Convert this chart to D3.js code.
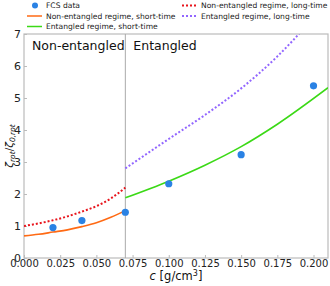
<!DOCTYPE html>
<html>
<head>
<meta charset="utf-8">
<script src="https://cdn.jsdelivr.net/npm/d3@7"></script>
<style>
  body { margin: 0; background: #fff; }
  svg { display: block; font-family: "DejaVu Sans", sans-serif; }
</style>
</head>
<body>
<div id="chart"></div>
<script>
// FCS measurements
const fcsC = [0.02, 0.04, 0.07, 0.1, 0.15, 0.2];
const fcsY = [0.95, 1.17, 1.43, 2.32, 3.23, 5.38];

// model curves
const nonEntShortC = [0, 0.01, 0.02, 0.03, 0.04, 0.05, 0.06, 0.07];
const nonEntShortY = [0.69, 0.74, 0.81, 0.88, 0.98, 1.1, 1.27, 1.48];
const nonEntLongC = [0, 0.01, 0.02, 0.03, 0.04, 0.05, 0.06, 0.07];
const nonEntLongY = [1.0, 1.08, 1.18, 1.3, 1.45, 1.62, 1.86, 2.2];
const entShortC = [0.07, 0.1, 0.125, 0.15, 0.175, 0.21];
const entShortY = [1.88, 2.4, 2.9, 3.48, 4.18, 5.32];
const entLongC = [0.07, 0.1, 0.125, 0.15, 0.175, 0.195];
const entLongY = [2.8, 3.72, 4.47, 5.3, 6.3, 7.25];

const cBoundary = 0.07;
const xTicks = [0, 0.025, 0.05, 0.075, 0.1, 0.125, 0.15, 0.175, 0.2];
const yTicks = [0, 1, 2, 3, 4, 5, 6, 7];

const width = 330, height = 286;
const margin = { top: 34, right: 2, bottom: 28, left: 24 };

const svg = d3.select("#chart").append("svg")
  .attr("width", width)
  .attr("height", height);

const x = d3.scaleLinear().domain([0, 0.21]).range([margin.left, width - margin.right]);
const y = d3.scaleLinear().domain([0, 7]).range([height - margin.bottom, margin.top]);

svg.append("defs").append("clipPath").attr("id", "plot-clip")
  .append("rect")
  .attr("x", x(0)).attr("y", y(7))
  .attr("width", x(0.21) - x(0)).attr("height", y(0) - y(7));

// axes
const xAxis = svg.append("g")
  .attr("transform", `translate(0,${y(0)})`)
  .call(d3.axisBottom(x).tickValues(xTicks).tickFormat(d3.format(".3f")).tickSize(-3).tickPadding(2));
const yAxis = svg.append("g")
  .attr("transform", `translate(${x(0)},0)`)
  .call(d3.axisLeft(y).tickValues(yTicks).tickFormat(d3.format("d")).tickSize(-3).tickPadding(3));

[xAxis, yAxis].forEach((g) => {
  g.select(".domain").remove();
  g.selectAll(".tick line").attr("stroke", "#bbb");
  g.selectAll(".tick text").attr("fill", "#222").style("font-size", "10px")
    .style("font-family", "DejaVu Sans");
});
yAxis.selectAll(".tick text").style("font-size", "11px");

// frame
svg.append("rect")
  .attr("x", x(0)).attr("y", y(7))
  .attr("width", x(0.21) - x(0)).attr("height", y(0) - y(7))
  .attr("fill", "none").attr("stroke", "#bbb").attr("stroke-width", 1.2);

// regime boundary
svg.append("line")
  .attr("x1", x(cBoundary)).attr("x2", x(cBoundary))
  .attr("y1", y(0)).attr("y2", y(7))
  .attr("stroke", "#aaa").attr("stroke-width", 1);

svg.append("text").attr("x", x(0) + 8).attr("y", 50)
  .style("font-size", "12.5px").attr("fill", "#111").text("Non-entangled");
svg.append("text").attr("x", x(cBoundary) + 8).attr("y", 50)
  .style("font-size", "12.5px").attr("fill", "#111").text("Entangled");

const line = d3.line()
  .x((d) => x(d[0]))
  .y((d) => y(d[1]))
  .curve(d3.curveMonotoneX);

const curves = [
  { c: nonEntShortC, v: nonEntShortY, color: "#ff6a14", dash: null },
  { c: entShortC, v: entShortY, color: "#3bd916", dash: null },
  { c: nonEntLongC, v: nonEntLongY, color: "#e8141c", dash: "2,2" },
  { c: entLongC, v: entLongY, color: "#9266ff", dash: "2,2" },
];

const plot = svg.append("g").attr("clip-path", "url(#plot-clip)");

curves.forEach((s) => {
  plot.append("path")
    .datum(d3.zip(s.c, s.v))
    .attr("d", line)
    .attr("fill", "none")
    .attr("stroke", s.color)
    .attr("stroke-width", s.dash ? 2 : 1.6)
    .attr("stroke-dasharray", s.dash);
});

plot.selectAll("circle")
  .data(d3.zip(fcsC, fcsY))
  .enter()
  .append("circle")
  .attr("cx", (d) => x(d[0]))
  .attr("cy", (d) => y(d[1]))
  .attr("r", 3.6)
  .attr("fill", "#2a82e4");

// axis labels
svg.append("text")
  .attr("x", (x(0) + x(0.21)) / 2)
  .attr("y", 280)
  .attr("text-anchor", "middle")
  .style("font-size", "11.5px")
  .attr("fill", "#111")
  .html('<tspan font-style="italic">c</tspan> [g/cm<tspan dy="-4" font-size="8px">3</tspan><tspan dy="4">]</tspan>');

svg.append("text")
  .attr("transform", `translate(12.5,${(y(0) + y(7)) / 2}) rotate(-90)`)
  .attr("text-anchor", "middle")
  .style("font-size", "10.5px")
  .attr("fill", "#111")
  .html('<tspan font-style="italic">ζ</tspan><tspan dy="2.5" font-size="7.5px" font-style="italic">rot</tspan>' +
    '<tspan dy="-2.5">/</tspan><tspan font-style="italic">ζ</tspan>' +
    '<tspan dy="2.5" font-size="7.5px" font-style="italic">0,rot</tspan>');

// legend, two columns
const legend = [
  { label: "FCS data", type: "dot", color: "#2a82e4", col: 0, row: 0 },
  { label: "Non-entangled regime, short-time", type: "line", color: "#ff6a14", col: 0, row: 1 },
  { label: "Entangled regime, short-time", type: "line", color: "#3bd916", col: 0, row: 2 },
  { label: "Non-entangled regime, long-time", type: "dash", color: "#e8141c", col: 1, row: 0 },
  { label: "Entangled regime, long-time", type: "dash", color: "#9266ff", col: 1, row: 1 },
];
const colX = [27, 182];

const items = svg.selectAll(".legend").data(legend).enter().append("g")
  .attr("class", "legend")
  .attr("transform", (d) => `translate(${colX[d.col]},${5.5 + d.row * 10.5})`);

items.filter((d) => d.type === "dot").append("circle")
  .attr("cx", 8).attr("cy", 0).attr("r", 3)
  .attr("fill", (d) => d.color);
items.filter((d) => d.type !== "dot").append("line")
  .attr("x1", 0).attr("x2", 15).attr("y1", 0).attr("y2", 0)
  .attr("stroke", (d) => d.color)
  .attr("stroke-width", (d) => (d.type === "dash" ? 1.8 : 1.5))
  .attr("stroke-dasharray", (d) => (d.type === "dash" ? "2,2" : null));
items.append("text")
  .attr("x", 19).attr("y", 2.7)
  .style("font-size", "7.6px")
  .attr("fill", "#222")
  .text((d) => d.label);
</script>
</body>
</html>
